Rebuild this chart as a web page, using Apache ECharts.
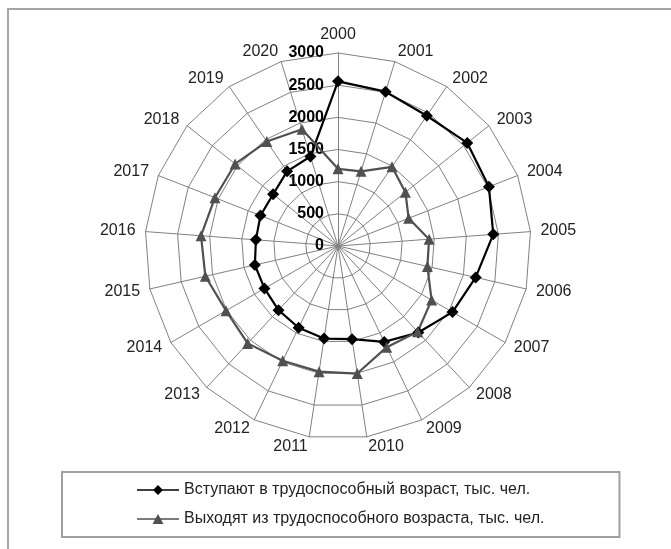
<!DOCTYPE html>
<html><head><meta charset="utf-8">
<script src="https://cdn.jsdelivr.net/npm/echarts@6/dist/echarts.min.js"></script>
<style>
html,body{margin:0;padding:0;background:#fff;}
#frame{position:absolute;left:7px;top:8px;width:700px;height:600px;border:2px solid #a6a6a6;box-sizing:border-box;}
#chart{position:absolute;left:0;top:0;width:671px;height:549px;}
</style></head><body><div id="frame"></div><div id="chart"></div>
<script>
const years = ['2000','2001','2002','2003','2004','2005','2006','2007','2008','2009','2010',
  '2011','2012','2013','2014','2015','2016','2017','2018','2019','2020'];
const entering = [2560, 2510, 2450, 2570, 2520, 2420, 2195, 2055, 1835, 1655, 1465,
  1455, 1410, 1360, 1320, 1325, 1280, 1295, 1290, 1405, 1455];
const leaving = [1200, 1215, 1490, 1340, 1180, 1420, 1425, 1680, 1820, 1745, 2005,
  1975, 1980, 2065, 2010, 2115, 2135, 2055, 2045, 1965, 1900];
const seriesNames = ['Вступают в трудоспособный возраст, тыс. чел.',
  'Выходят из трудоспособного возраста, тыс. чел.'];
const axisMin = 0, axisMax = 3000, splitCount = 6;

// ECharts radar places indicators counter-clockwise; reorder so years run clockwise
const order = [0];
for (let i = years.length - 1; i >= 1; i--) order.push(i);
const reorder = arr => order.map(i => arr[i]);

const font = '"Liberation Sans", Arial, sans-serif';
const indicator = order.map((i, k) => {
  const o = { name: years[i], min: axisMin, max: axisMax };
  if (k === 0) o.axisLabel = { show: true };
  return o;
});

const diamondIcon = 'path://M0,4.2H42V5.8H0Z M21,0L26,5L21,10L16,5Z';
const triIcon = 'path://M0,4.2H42V5.8H0Z M21,0L26.5,10L15.5,10Z';

const chart = echarts.init(document.getElementById('chart'));
chart.setOption({
  animation: false,
  legend: {
    orient: 'vertical', left: 62, top: 472,
    padding: [10, 75, 10, 75],
    borderColor: '#a0a0a0', borderWidth: 2,
    itemWidth: 42, itemHeight: 10, itemGap: 13,
    textStyle: { fontSize: 16, color: '#222', fontFamily: font },
    data: [{ name: seriesNames[0], icon: diamondIcon }, { name: seriesNames[1], icon: triIcon }]
  },
  radar: {
    center: [338, 246], radius: 193, startAngle: 90, shape: 'polygon',
    splitNumber: splitCount,
    indicator: indicator,
    axisName: { color: '#222', fontSize: 16, fontFamily: font },
    nameGap: 10,
    splitLine: { lineStyle: { color: '#808080', width: 1 } },
    splitArea: { show: false },
    axisLine: { lineStyle: { color: '#808080', width: 1 } },
    axisTick: { show: false },
    axisLabel: { show: false, color: '#000', fontWeight: 'bold', fontSize: 16, fontFamily: font, margin: 14,
      formatter: v => String(v) }
  },
  series: [{
    type: 'radar',
    data: [
      { name: seriesNames[0], value: reorder(entering), symbol: 'diamond', symbolSize: 12,
        lineStyle: { color: '#000', width: 2.2 }, itemStyle: { color: '#000' } },
      { name: seriesNames[1], value: reorder(leaving), symbol: 'triangle', symbolSize: 11,
        lineStyle: { color: '#505050', width: 2.2 }, itemStyle: { color: '#505050' } }
    ]
  }]
});
</script></body></html>
